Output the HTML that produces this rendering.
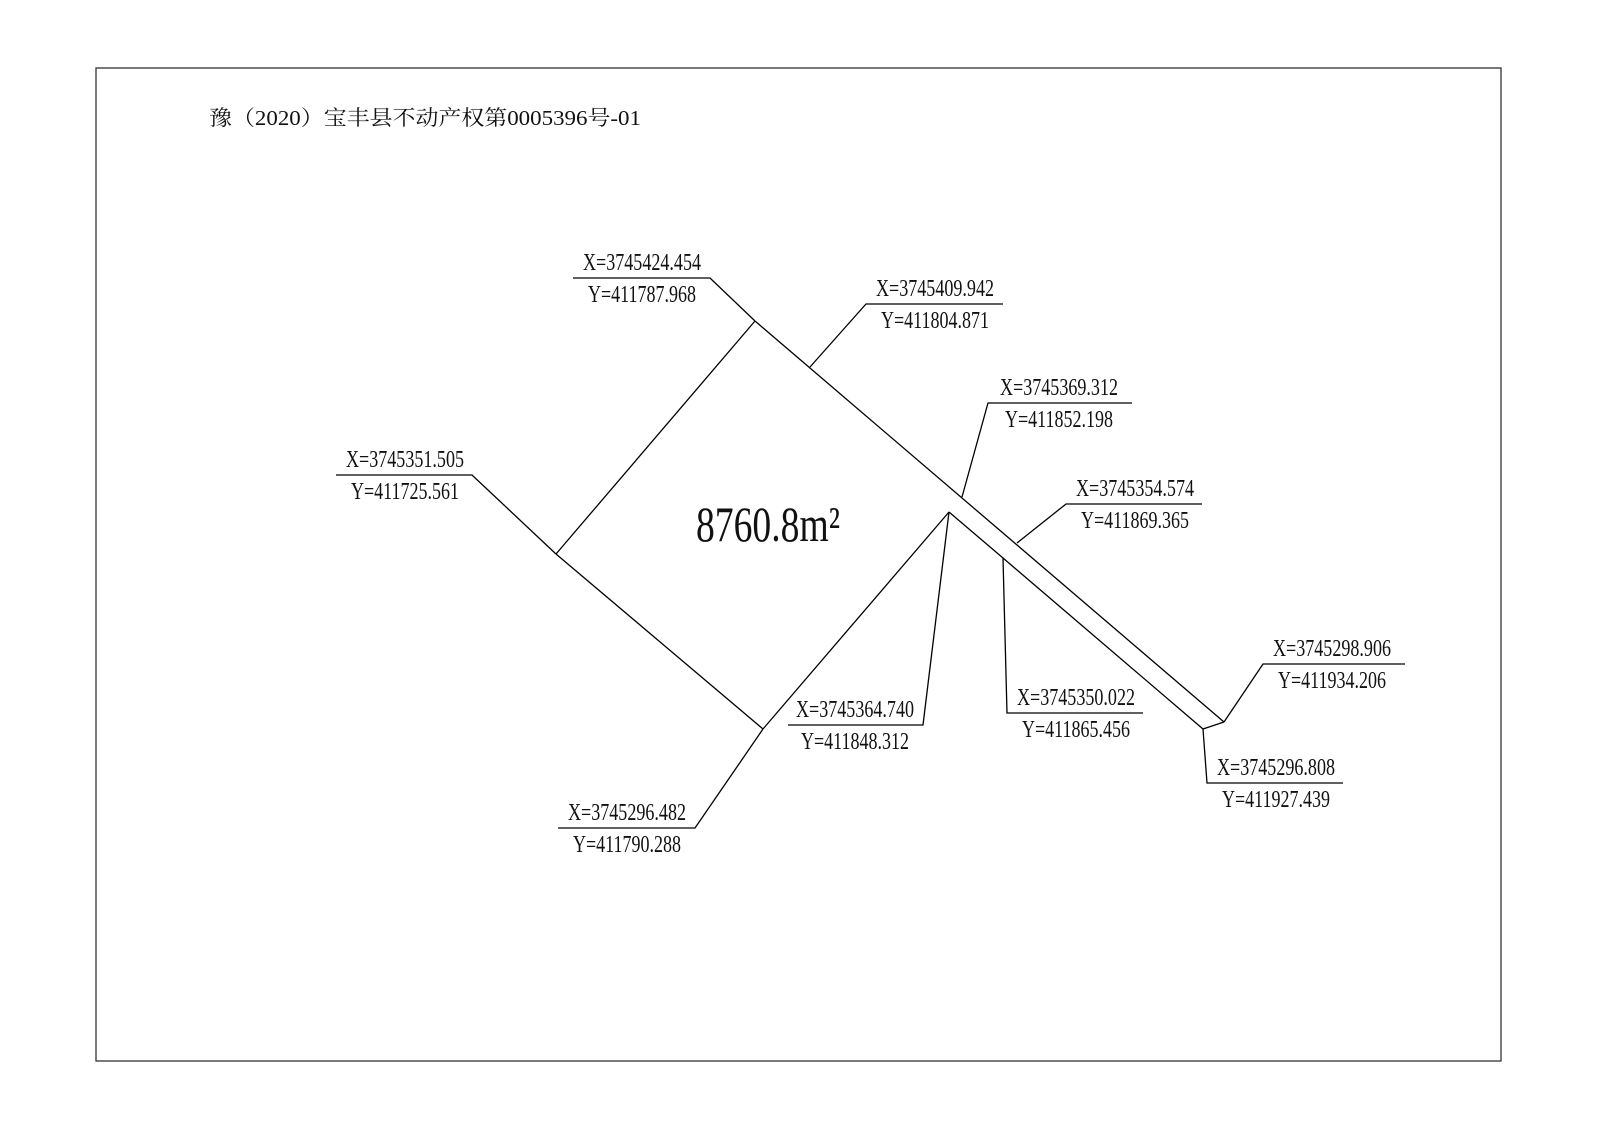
<!DOCTYPE html>
<html><head><meta charset="utf-8"><style>
html,body{margin:0;padding:0;background:#fff;}
svg{display:block;}
text{font-family:"Liberation Serif","Noto Serif CJK SC",serif;fill:#111;}
</style></head><body>
<svg width="1600" height="1130" viewBox="0 0 1600 1130" xmlns="http://www.w3.org/2000/svg">
<rect x="96" y="68" width="1405" height="993" fill="none" stroke="#333" stroke-width="1.3"/>
<text x="209" y="125" font-size="21" textLength="432" lengthAdjust="spacingAndGlyphs" style="font-family:'Liberation Serif','Noto Serif CJK SC',serif">豫（2020）宝丰县不动产权第0005396号-01</text>
<g stroke="#000" stroke-width="1.3" fill="none">
<line x1="755" y1="321" x2="1224" y2="722"/>
<line x1="755" y1="321" x2="556" y2="554"/>
<line x1="556" y1="554" x2="763" y2="729"/>
<line x1="763" y1="729" x2="949" y2="512"/>
<polyline points="949,512 1003,558 1203,729 1224,722"/>
<polyline points="573,278 710,278 755,321"/>
<polyline points="1003,304 866,304 810,367"/>
<polyline points="1132,403 988,403 962,497"/>
<polyline points="1202,504 1066,504 1017,543"/>
<polyline points="1003,558 1007,713 1143,713"/>
<polyline points="1224,722 1263,664 1405,664"/>
<polyline points="1203,729 1207,783 1343,783"/>
<polyline points="949,512 923,725 788,725"/>
<polyline points="763,729 695,828 558,828"/>
<polyline points="556,554 472,475 336,475"/>
</g>
<g font-size="24" text-anchor="middle">
<text x="642" y="270" textLength="118" lengthAdjust="spacingAndGlyphs">X=3745424.454</text>
<text x="642" y="302" textLength="108" lengthAdjust="spacingAndGlyphs">Y=411787.968</text>
<text x="935" y="296" textLength="118" lengthAdjust="spacingAndGlyphs">X=3745409.942</text>
<text x="935" y="328" textLength="108" lengthAdjust="spacingAndGlyphs">Y=411804.871</text>
<text x="1059" y="395" textLength="118" lengthAdjust="spacingAndGlyphs">X=3745369.312</text>
<text x="1059" y="427" textLength="108" lengthAdjust="spacingAndGlyphs">Y=411852.198</text>
<text x="1135" y="496" textLength="118" lengthAdjust="spacingAndGlyphs">X=3745354.574</text>
<text x="1135" y="528" textLength="108" lengthAdjust="spacingAndGlyphs">Y=411869.365</text>
<text x="1076" y="705" textLength="118" lengthAdjust="spacingAndGlyphs">X=3745350.022</text>
<text x="1076" y="737" textLength="108" lengthAdjust="spacingAndGlyphs">Y=411865.456</text>
<text x="1332" y="656" textLength="118" lengthAdjust="spacingAndGlyphs">X=3745298.906</text>
<text x="1332" y="688" textLength="108" lengthAdjust="spacingAndGlyphs">Y=411934.206</text>
<text x="1276" y="775" textLength="118" lengthAdjust="spacingAndGlyphs">X=3745296.808</text>
<text x="1276" y="807" textLength="108" lengthAdjust="spacingAndGlyphs">Y=411927.439</text>
<text x="855" y="717" textLength="118" lengthAdjust="spacingAndGlyphs">X=3745364.740</text>
<text x="855" y="749" textLength="108" lengthAdjust="spacingAndGlyphs">Y=411848.312</text>
<text x="627" y="820" textLength="118" lengthAdjust="spacingAndGlyphs">X=3745296.482</text>
<text x="627" y="852" textLength="108" lengthAdjust="spacingAndGlyphs">Y=411790.288</text>
<text x="405" y="467" textLength="118" lengthAdjust="spacingAndGlyphs">X=3745351.505</text>
<text x="405" y="499" textLength="108" lengthAdjust="spacingAndGlyphs">Y=411725.561</text>
</g>
<text x="696" y="541" font-size="50" textLength="144" lengthAdjust="spacingAndGlyphs">8760.8m²</text>
</svg>
</body></html>
